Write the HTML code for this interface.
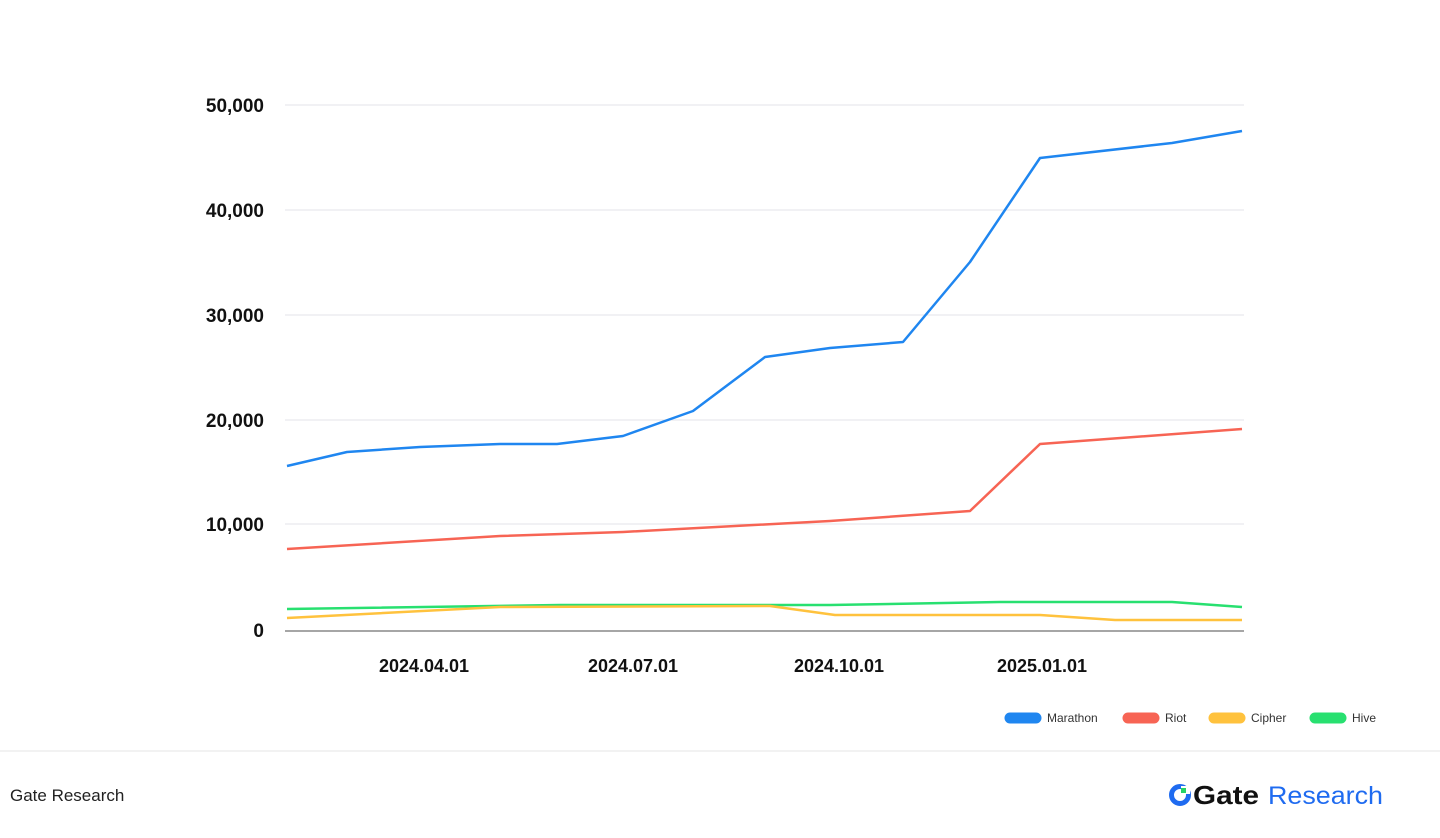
<!DOCTYPE html>
<html><head><meta charset="utf-8"><style>
body{margin:0;width:1440px;height:838px;background:#fff;font-family:"Liberation Sans",sans-serif;overflow:hidden;position:relative}
</style></head><body>
<svg width="1440" height="838" style="position:absolute;left:0;top:0">
<g stroke="#e3e3e8" stroke-width="1">
<line x1="285" y1="105" x2="1244" y2="105"/><line x1="285" y1="210" x2="1244" y2="210"/><line x1="285" y1="315" x2="1244" y2="315"/><line x1="285" y1="420" x2="1244" y2="420"/><line x1="285" y1="524" x2="1244" y2="524"/>
</g>
<line x1="285" y1="631" x2="1244" y2="631" stroke="#888" stroke-width="1.5"/>
<g font-size="19" font-weight="bold" fill="#111" text-anchor="end">
<text x="264" y="112">50,000</text><text x="264" y="217">40,000</text><text x="264" y="322">30,000</text><text x="264" y="427">20,000</text><text x="264" y="531">10,000</text><text x="264" y="637">0</text>
</g>
<g font-size="18" font-weight="bold" fill="#111" text-anchor="middle">
<text x="424" y="672">2024.04.01</text><text x="633" y="672">2024.07.01</text><text x="839" y="672">2024.10.01</text><text x="1042" y="672">2025.01.01</text>
</g>
<g fill="none" stroke-width="2.5" stroke-linejoin="round">
<polyline stroke="#28e070" points="287,609 560,605 830,605 1000,602 1172,602 1242,607"/>
<polyline stroke="#ffc23d" points="287,618 500,607 770,606 835,615 1040,615 1115,620 1242,620"/>
<polyline stroke="#f76454" points="287,549 500,536 623,532 830,521 970,511 1040,444 1242,429"/>
<polyline stroke="#1f86f0" points="287,466 347,452 420,447 500,444 557,444 623,436 693,411 765,357 830,348 903,342 970,262 1040,158 1172,143 1242,131"/>
</g>
<g stroke-width="11" stroke-linecap="round">
<line x1="1010" y1="718" x2="1036" y2="718" stroke="#1f86f0"/>
<line x1="1128" y1="718" x2="1154" y2="718" stroke="#f76454"/>
<line x1="1214" y1="718" x2="1240" y2="718" stroke="#ffc23d"/>
<line x1="1315" y1="718" x2="1341" y2="718" stroke="#28e070"/>
</g>
<g font-size="12" fill="#333">
<text x="1047" y="722">Marathon</text><text x="1165" y="722">Riot</text><text x="1251" y="722">Cipher</text><text x="1352" y="722">Hive</text>
</g>
<line x1="0" y1="751" x2="1440" y2="751" stroke="#e6e6e6"/>
<text x="10" y="801" font-size="17" fill="#222">Gate Research</text>
<circle cx="1180" cy="795" r="8.5" fill="none" stroke="#1f6bf0" stroke-width="5"/>
<rect x="1181" y="786" width="9" height="8" fill="#fff"/>
<rect x="1181" y="788" width="5" height="5" fill="#25d366"/>
<text x="1193" y="804" font-size="26" font-weight="bold" fill="#111" textLength="66" lengthAdjust="spacingAndGlyphs">Gate</text>
<text x="1268" y="804" font-size="25" fill="#1f6bf0" textLength="115" lengthAdjust="spacingAndGlyphs">Research</text>
</svg>
</body></html>
